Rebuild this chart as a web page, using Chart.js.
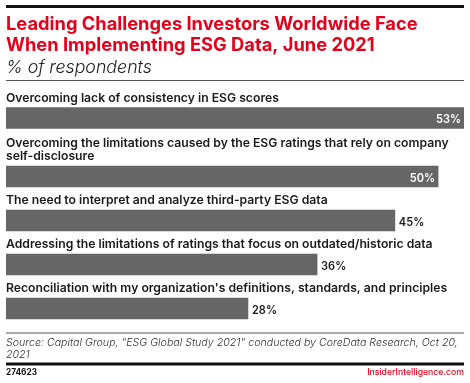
<!DOCTYPE html>
<html>
<head>
<meta charset="utf-8">
<script src="https://cdn.jsdelivr.net/npm/chart.js@4.4.1/dist/chart.umd.min.js"></script>
<style>
html,body{margin:0;padding:0;background:#fff;}
#wrap{position:relative;width:470px;height:383px;}
canvas{display:block;}
</style>
</head>
<body>
<div id="wrap"><canvas id="c" width="470" height="383"></canvas></div>
<script>
// ---- data ----
const categories = [
  ["Overcoming lack of consistency in ESG scores"],
  ["Overcoming the limitations caused by the ESG ratings that rely on company", "self-disclosure"],
  ["The need to interpret and analyze third-party ESG data"],
  ["Addressing the limitations of ratings that focus on outdated/historic data"],
  ["Reconciliation with my organization's definitions, standards, and principles"]
];
const values = [53, 50, 45, 36, 28];
const valueLabels = values.map(v => v + "%");
const titleLines = ["Leading Challenges Investors Worldwide Face", "When Implementing ESG Data, June 2021"];
const subtitle = "% of respondents";
const sourceLines = ["Source: Capital Group, \"ESG Global Study 2021\" conducted by CoreData Research, Oct 20,", "2021"];
const chartId = "274623";
const brand = "InsiderIntelligence.com";

// ---- layout (computed from label line counts) ----
const FIRST = 118, BLOCK = 29.5, LINE = 14.5;
const positions = [];
categories.forEach((lines, i) => {
  positions.push(i === 0 ? FIRST : positions[i - 1] + BLOCK + LINE * lines.length);
});

const RED = "#e4001b";
const SANS = "Inter, 'Noto Sans', sans-serif";

// pick a font size so a reference string spans a given width
function fit(ctx, text, style, width) {
  ctx.font = style + " 20px " + SANS;
  const w = ctx.measureText(text).width;
  return style + " " + (20 * width / w).toFixed(2) + "px " + SANS;
}

const textPlugin = {
  id: "texts",
  afterDatasetsDraw(chart) {
    const ctx = chart.ctx;
    const meta = chart.getDatasetMeta(0);
    const area = chart.chartArea;
    ctx.save();
    const labelFont = fit(ctx, categories[0][0], "600", 273);
    const valueFont = fit(ctx, "53%", "600", 25);
    meta.data.forEach((bar, i) => {
      const top = bar.y - bar.height / 2;
      ctx.fillStyle = "#1a1a1a";
      ctx.font = labelFont;
      ctx.textAlign = "left";
      ctx.textBaseline = "alphabetic";
      const lines = categories[i];
      lines.forEach((ln, k) => {
        const yb = top - 6 - (lines.length - 1 - k) * 13.5;
        ctx.fillText(ln, 6, yb);
      });
      ctx.font = valueFont;
      const w = ctx.measureText(valueLabels[i]).width;
      if (bar.x + 4 + w > area.right) {
        ctx.fillStyle = "#ffffff";
        ctx.textAlign = "right";
        ctx.fillText(valueLabels[i], bar.x - 3, bar.y + 5);
      } else {
        ctx.fillStyle = "#1a1a1a";
        ctx.textAlign = "left";
        ctx.fillText(valueLabels[i], bar.x + 4, bar.y + 5);
      }
    });
    // header
    ctx.textAlign = "left";
    ctx.fillStyle = "#111";
    ctx.fillRect(6, 5, 458, 3);
    ctx.fillStyle = RED;
    ctx.font = fit(ctx, titleLines[0], "700", 412);
    ctx.fillText(titleLines[0], 6, 29.5);
    ctx.fillText(titleLines[1], 6, 50.5);
    ctx.fillStyle = "#222";
    ctx.font = fit(ctx, subtitle, "italic 300", 146);
    ctx.fillText(subtitle, 6, 72.5);
    ctx.fillStyle = "#555";
    ctx.fillRect(6, 80, 458, 1);
    // footer
    ctx.fillRect(6, 332.5, 458, 1);
    ctx.fillStyle = "#333";
    ctx.font = fit(ctx, sourceLines[0], "italic 300", 452);
    ctx.fillText(sourceLines[0], 6, 346);
    ctx.fillText(sourceLines[1], 6, 357.5);
    ctx.fillStyle = "#111";
    ctx.fillRect(6, 362.5, 458, 3);
    ctx.font = fit(ctx, chartId, "700", 31);
    ctx.fillText(chartId, 6, 375);
    ctx.fillStyle = RED;
    ctx.textAlign = "right";
    ctx.font = fit(ctx, brand, "500", 97);
    ctx.fillText(brand, 464, 375);
    ctx.restore();
  }
};

new Chart(document.getElementById("c"), {
  type: "bar",
  data: {
    datasets: [{
      data: values.map((v, i) => ({ x: v, y: positions[i] })),
      backgroundColor: "#666666",
      borderWidth: 0,
      barThickness: 21
    }]
  },
  options: {
    indexAxis: "y",
    responsive: false,
    animation: false,
    layout: { padding: { left: 6, right: 6, top: 0, bottom: 0 } },
    plugins: { legend: { display: false }, tooltip: { enabled: false } },
    scales: {
      x: { type: "linear", min: 0, max: 53, display: false, offset: false },
      y: { type: "linear", min: 0, max: 383, reverse: true, display: false, offset: false }
    }
  },
  plugins: [textPlugin]
});
</script>
</body>
</html>
